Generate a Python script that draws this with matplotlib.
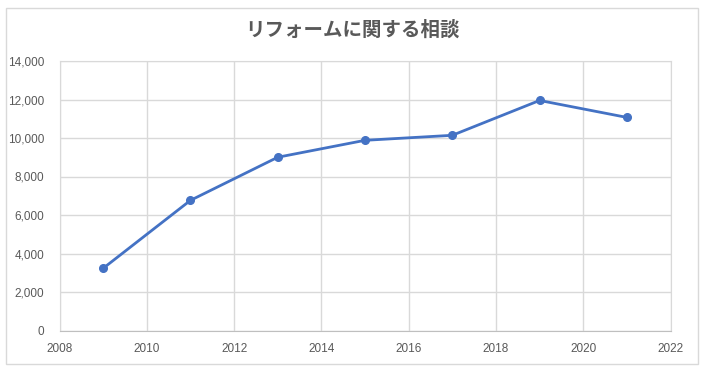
import matplotlib.pyplot as plt
from matplotlib.patches import Rectangle
from matplotlib.ticker import FuncFormatter, MultipleLocator

plt.rcParams['font.family'] = ['Liberation Sans', 'Noto Sans CJK JP', 'DejaVu Sans']

title = 'リフォームに関する相談'
years = [2009, 2011, 2013, 2015, 2017, 2019, 2021]
counts = [3230, 6760, 9000, 9880, 10140, 11950, 11070]

grid_c = '#d9d9d9'
text_c = '#595959'
line_c = '#4472c4'

fig = plt.figure(figsize=(7.04, 3.70), dpi=100)
fig.patches.append(Rectangle((6 / 704, 6 / 370), 692 / 704, 356 / 370,
                             transform=fig.transFigure, fill=False,
                             edgecolor=grid_c, linewidth=1))

ax = fig.add_axes([59.5 / 704, 1 - 330.5 / 370, 611 / 704, 269.5 / 370])
ax.plot(years, counts, color=line_c, linewidth=2, marker='o', markersize=5.5,
        zorder=3)

ax.set_xlim(2008, 2022)
ax.set_ylim(0, 14000)
ax.xaxis.set_major_locator(MultipleLocator(2))
ax.yaxis.set_major_locator(MultipleLocator(2000))
ax.yaxis.set_major_formatter(FuncFormatter(lambda v, p: f'{int(v):,}'))
ax.grid(True, color=grid_c, linewidth=1)
ax.set_axisbelow(True)
for s in ax.spines.values():
    s.set_color(grid_c)
ax.spines['bottom'].set_color('#bfbfbf')
ax.tick_params(length=0, colors=text_c, labelsize=8.5)
ax.tick_params(axis='x', pad=9)
ax.tick_params(axis='y', pad=11)

fig.text(0.5, 1 - 30 / 370, title, ha='center', va='center', fontsize=14,
         fontweight='bold', color=text_c,
         family=['Noto Sans CJK JP', 'DejaVu Sans'])

fig.savefig('out.png', dpi=100)
